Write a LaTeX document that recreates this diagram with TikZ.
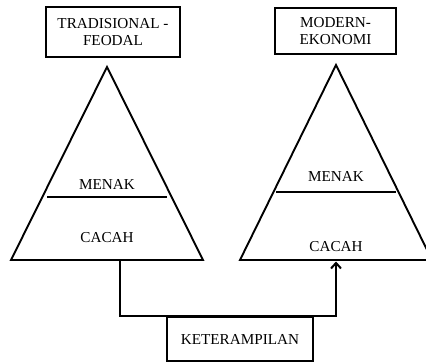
\documentclass[tikz,border=0pt]{standalone}
\usepackage{fontspec}
\setmainfont{Liberation Serif}
\usetikzlibrary{arrows.meta}
\begin{document}
\begin{tikzpicture}[x=1pt,y=-1pt,
  label/.style={font=\fontsize{15.2}{17.5}\selectfont, inner sep=0pt, align=center},
  titlebox/.style={draw, line width=2.2pt, inner sep=0pt, label},
  tri/.style={line width=1.9pt, line join=miter},
  divider/.style={line width=1.5pt},
  link/.style={line width=2.2pt, line join=miter}
]
\useasboundingbox (0,0) rectangle (426,363);
\fill[white] (0,0) rectangle (426,363);

% heading boxes
\node[titlebox, minimum width=134pt, minimum height=50pt] (trad) at (113,32) {TRADISIONAL -\\FEODAL};
\node[titlebox, minimum width=121pt, minimum height=46pt] (modern) at (335.5,31) {MODERN-\\EKONOMI};

% left pyramid
\coordinate (ltop) at (107,67);
\coordinate (lleft) at (11,260);
\coordinate (lright) at (203,260);
\draw[tri] (ltop) -- (lleft) -- (lright) -- cycle;
\draw[divider] (47,197) -- (167,197);
\node[label] (lmenak) at (107,184) {MENAK};
\node[label] (lcacah) at (107,238) {CACAH};

% right pyramid
\coordinate (rtop) at (336,65);
\coordinate (rleft) at (240,260);
\coordinate (rright) at (432,260);
\draw[tri] (rtop) -- (rleft) -- (rright) -- cycle;
\draw[divider] (276,192) -- (396,192);
\node[label] (rmenak) at (336,176) {MENAK};
\node[label] (rcacah) at (336,247) {CACAH};

% skill box and the link between the two bases
\node[titlebox, minimum width=146pt, minimum height=44pt] (skill) at (240,339) {KETERAMPILAN};
\coordinate (lout) at (120,261);
\coordinate (rin) at (336,261.5);
\draw[link, -{Straight Barb[length=5.5pt,width=10pt,line width=2pt]}]
  (lout) -- (lout |- skill.north) -- (rin |- skill.north) -- (rin);
\end{tikzpicture}
\end{document}
